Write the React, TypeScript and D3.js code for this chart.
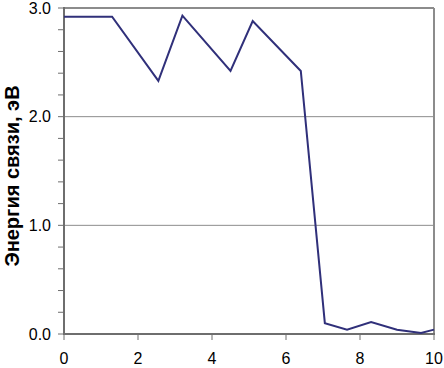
import * as d3 from 'd3';

// values
const xValues = [0, 1.3, 2.55, 3.2, 4.5, 5.1, 6.4, 7.05, 7.65, 8.3, 9.0, 9.65, 10];
const energy = [2.92, 2.92, 2.33, 2.93, 2.42, 2.88, 2.42, 0.1, 0.04, 0.11, 0.04, 0.01, 0.04];
const xTickValues = [0, 2, 4, 6, 8, 10];
const yTickValues = [0, 1, 2, 3];
const yTickLabels = ["0.0", "1.0", "2.0", "3.0"];
const yTitle = "Энергия связи, эВ";

const width = 444;
const height = 368;
const marginLeft = 64;
const marginRight = 10;
const marginTop = 8;
const marginBottom = 34;

export default function App() {
    const x = d3.scaleLinear().domain([0, 10]).range([marginLeft, width - marginRight]);
    const y = d3.scaleLinear().domain([0, 3]).range([height - marginBottom, marginTop]);

    const points = xValues.map((v, i) => [v, energy[i]] as [number, number]);
    const line = d3.line<[number, number]>()
        .x(d => x(d[0]))
        .y(d => y(d[1]));

    // minor ticks every 0.2 on the value axis
    const yMinor = d3.range(0, 3.0001, 0.2);
    const font = "'Liberation Sans', Arial, sans-serif";

    return (
        <svg width={width} height={height} style={{ position: "fixed", top: 0, left: 0, background: "#fff" }}>
            {/* gridlines */}
            {yTickValues.filter(v => v > 0 && v < 3).map(v => (
                <line key={v} x1={x(0)} x2={x(10)} y1={y(v)} y2={y(v)} stroke="#8c8c8c" strokeWidth={1} />
            ))}
            {/* frame top / right */}
            <line x1={x(0)} x2={x(10)} y1={y(3)} y2={y(3)} stroke="#8c8c8c" strokeWidth={2} />
            <line x1={x(10)} x2={x(10)} y1={y(3)} y2={y(0)} stroke="#8c8c8c" strokeWidth={2} />

            {/* y axis */}
            <line x1={x(0)} x2={x(0)} y1={y(3) - 1} y2={y(0) + 1} stroke="#6e6e6e" strokeWidth={2} />
            {yMinor.map((v, i) => (
                <line key={i} x1={x(0) - 6} x2={x(0)} y1={y(v)} y2={y(v)} stroke="#6e6e6e" strokeWidth={1} />
            ))}
            {yTickValues.map((v, i) => (
                <text key={v} x={51} y={y(v)} dy="0.35em" textAnchor="end"
                    fontFamily={font} fontSize={16} fill="#000">{yTickLabels[i]}</text>
            ))}

            {/* x axis */}
            <line x1={x(0) - 1} x2={x(10) + 1} y1={y(0)} y2={y(0)} stroke="#6e6e6e" strokeWidth={2} />
            {xTickValues.map(v => (
                <line key={v} x1={x(v)} x2={x(v)} y1={y(0)} y2={y(0) + 6} stroke="#6e6e6e" strokeWidth={1} />
            ))}
            {xTickValues.map(v => (
                <text key={v} x={x(v)} y={364} textAnchor="middle"
                    fontFamily={font} fontSize={16} fill="#000">{v}</text>
            ))}

            {/* axis title */}
            <text transform={`translate(18.5,176) rotate(-90)`} textAnchor="middle"
                fontFamily={font} fontSize={20} fontWeight="bold" fill="#000">{yTitle}</text>

            {/* series */}
            <path d={line(points) || ""} fill="none" stroke="#30307a" strokeWidth={2} strokeLinejoin="miter" />
        </svg>
    );
}
